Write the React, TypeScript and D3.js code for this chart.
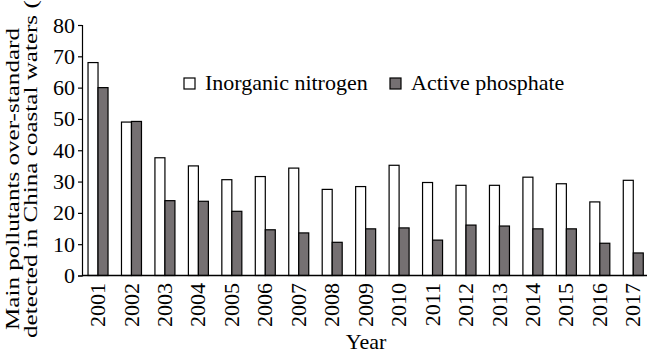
import React, { useEffect, useRef } from 'react';
import * as d3 from 'd3';

// data
const years = ['2001', '2002', '2003', '2004', '2005', '2006', '2007', '2008', '2009', '2010', '2011', '2012', '2013', '2014', '2015', '2016', '2017'];
const nitrogen = [68, 49, 37.6, 35, 30.6, 31.6, 34.3, 27.5, 28.4, 35.2, 29.7, 28.8, 28.8, 31.4, 29.3, 23.5, 30.4];
const phosphate = [60, 49.2, 23.9, 23.7, 20.5, 14.6, 13.6, 10.6, 14.9, 15.2, 11.3, 16.1, 15.8, 14.9, 14.9, 10.3, 7.2];
const yTicks = [0, 10, 20, 30, 40, 50, 60, 70, 80];
const seriesNames = ['Inorganic nitrogen', 'Active phosphate'];
const seriesColors = ['#ffffff', '#757072'];

const W = 650;
const H = 354;
const FONT = '"Liberation Serif", "Times New Roman", serif';

const App = () => {
  const ref = useRef<SVGSVGElement>(null);

  useEffect(() => {
    if (!ref.current) return;
    const svg = d3.select(ref.current);
    svg.selectAll('*').remove();

    const x = d3.scaleBand().domain(years).range([81.3, 650]).padding(0);
    const y = d3.scaleLinear().domain([0, 80]).range([275.5, 25]);
    const barW = 10;

    // bars
    const groups = svg.selectAll('.yr')
      .data(years)
      .enter()
      .append('g')
      .attr('class', 'yr');

    groups.each(function (yr, i) {
      const g = d3.select(this);
      const c = (x(yr) as number) + x.bandwidth() / 2;
      [nitrogen[i], phosphate[i]].forEach((v, k) => {
        g.append('rect')
          .attr('x', c - barW + k * barW)
          .attr('y', y(v))
          .attr('width', barW)
          .attr('height', y(0) - y(v))
          .attr('fill', seriesColors[k])
          .attr('stroke', '#000')
          .attr('stroke-width', 1.2);
      });
    });

    // y axis
    const yAxis = svg.append('g')
      .attr('transform', 'translate(82,0)')
      .call(d3.axisLeft(y).tickValues(yTicks).tickSize(4).tickPadding(3));
    yAxis.attr('font-family', FONT);
    yAxis.select('.domain').attr('stroke', '#000').attr('stroke-width', 1.2);
    yAxis.selectAll('.tick line').attr('stroke', '#000').attr('stroke-width', 1.2);
    yAxis.selectAll('.tick text')
      .attr('font-family', FONT)
      .attr('font-size', 22)
      .attr('fill', '#000');

    // x axis line
    svg.append('line')
      .attr('x1', 82).attr('x2', 647)
      .attr('y1', y(0)).attr('y2', y(0))
      .attr('stroke', '#000').attr('stroke-width', 1.5);

    // year labels
    svg.selectAll('.yl')
      .data(years)
      .enter()
      .append('text')
      .attr('class', 'yl')
      .attr('transform', d => `translate(${(x(d) as number) + x.bandwidth() / 2},283) rotate(-90)`)
      .attr('text-anchor', 'end')
      .attr('dy', '0.32em')
      .attr('font-family', FONT)
      .attr('font-size', 22)
      .text(d => d);

    svg.append('text')
      .attr('x', 366).attr('y', 349)
      .attr('text-anchor', 'middle')
      .attr('font-family', FONT)
      .attr('font-size', 22)
      .text('Year');

    // y title (two lines)
    svg.append('text')
      .attr('transform', 'translate(18.5,330) rotate(-90)')
      .attr('font-family', FONT)
      .attr('font-size', 19)
      .attr('textLength', 302)
      .attr('lengthAdjust', 'spacingAndGlyphs')
      .text('Main pollutants over-standard');
    svg.append('text')
      .attr('transform', 'translate(36.5,338) rotate(-90)')
      .attr('font-family', FONT)
      .attr('font-size', 19)
      .attr('textLength', 367)
      .attr('lengthAdjust', 'spacingAndGlyphs')
      .text('detected in China coastal waters (%)');

    // legend
    const legendX = [184, 390];
    seriesNames.forEach((name, k) => {
      svg.append('rect')
        .attr('x', legendX[k]).attr('y', 78)
        .attr('width', 11).attr('height', 11)
        .attr('fill', seriesColors[k])
        .attr('stroke', '#000').attr('stroke-width', 1.2);
      svg.append('text')
        .attr('x', legendX[k] + 21).attr('y', 90)
        .attr('font-family', FONT)
        .attr('font-size', 22)
        .text(name);
    });
  }, []);

  return (
    <svg ref={ref} width={W} height={H} style={{ display: 'block', position: 'absolute', left: 0, top: 0, background: '#fff' }} />
  );
};

export default App;
